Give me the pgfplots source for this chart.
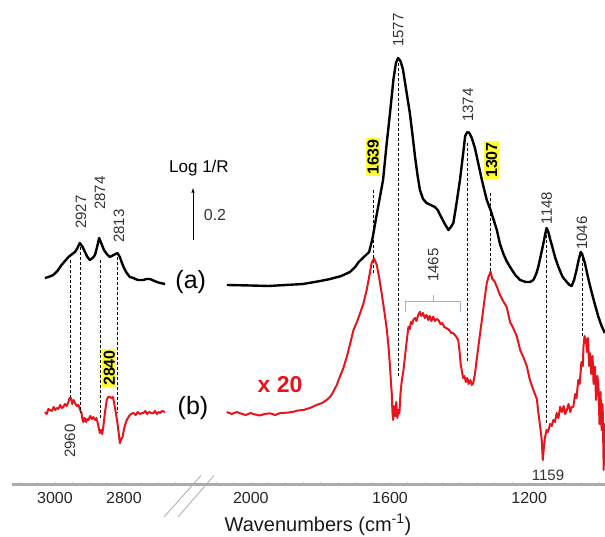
\documentclass[border=0pt]{standalone}
\usepackage{pgfplots}
\pgfplotsset{compat=1.18}
\usepackage{fontspec}
\setmainfont{Liberation Sans}
\definecolor{spred}{HTML}{E8141B}
\definecolor{axgray}{HTML}{ABABAB}
\definecolor{lblgray}{HTML}{333333}
\definecolor{brk}{HTML}{9CB2C6}
\definecolor{hl}{HTML}{FFFF33}
\newcommand{\fs}[1]{\fontsize{#1}{#1}\selectfont}
\pgfplotsset{spec/.style={
  scale only axis, x dir=reverse, ymin=0, ymax=484, clip=false,
  axis x line*=bottom, axis y line=none,
  x axis line style={-, draw=axgray, line width=3pt},
  tick align=center,
  major tick length=4pt, minor tick length=4pt,
  tick style={draw=axgray!60, line width=0.5pt},
  xticklabel style={font=\fs{16}, text=black!85, yshift=-3pt},
  /pgf/number format/assume math mode=true,
  /pgf/number format/set thousands separator={},
  height=484pt, anchor=south west,
}}
\begin{document}
\begin{tikzpicture}
\path[use as bounding box] (0,0) rectangle (605pt,536pt);
% ---------- left segment ----------
\begin{axis}[spec, at={(12pt,52pt)}, width=183pt,
  xmin=2594.2, xmax=3124.6,
  xtick={2800,3000}, minor xtick={2650,2700,...,3100}]
\addplot[black, line width=2.4pt, line join=round] coordinates {
(3029,206)(3015,207.5)(3005,209)(2993,213)(2981,219)(2971,223)(2961,227)(2950,230)
(2942,232)(2935,236)(2928,241)(2920,237)(2913,232)(2906,227)(2899,224)(2891,226)
(2884,229)(2878,237)(2872,246)(2865,240)(2858,234)(2850,230)(2841,227)(2830,229)
(2819,231)(2812,227)(2807,222)(2800,216)(2792,211)(2783,207)(2773,206)(2760,204)
(2744,204)(2735,205)(2725,205)(2715,203.5)(2705,202)(2695,201)(2681,200)};
\addplot[spred, line width=2pt, line join=round] coordinates {
(3029,72)(3024,70)(3019,75)(3014,74)(3009,73)(3004,77)(2999,74)(2995,76)(2990,75)
(2985,79)(2980,76)(2976,77)(2971,80)(2966,78)(2961,82)(2958,86)(2954,86)(2950,80)
(2946,84)(2942,81)(2937,78)(2932,79)(2927,74)(2923,71)(2920,64)(2918,62)(2914,66)
(2910,62)(2906,65)(2903,64)(2898,68)(2893,65)(2889,67)(2884,64)(2880,66)(2877,62)
(2873,56)(2870,51)(2866,54)(2863,50)(2860,57)(2855,72)(2850,84)(2846,87)(2841,87)
(2836,86)(2832,87)(2829,82)(2824,72)(2819,61)(2815,50)(2812,41)(2808,45)(2804,47)
(2800,55)(2796,60)(2792,64)(2785,68)(2780,70)(2773,71)(2766,69)(2760,72)(2754,70)
(2748,71)(2744,71)(2738,73)(2733,70)(2727,72)(2721,71)(2715,71)(2710,73)(2705,70)
(2700,72)(2695,71)(2690,73)(2681,72)};
\begin{scope}[dashed, dash pattern=on 3pt off 2pt, line width=0.8pt]
\draw (axis cs:2954,224) -- (axis cs:2954,84);
\draw (axis cs:2925,237) -- (axis cs:2925,71);
\draw (axis cs:2868,224) -- (axis cs:2868,64);
\draw (axis cs:2819,227) -- (axis cs:2819,71);
\end{scope}
\end{axis}
% ---------- right segment ----------
\begin{axis}[spec, at={(195pt,52pt)}, width=410pt,
  xmin=982.2, xmax=2160.4,
  xtick={1200,1600,2000}, minor xtick={1000,1050,...,2150}]
\addplot[black, line width=2.4pt, line join=round] coordinates {
(2069,199)(2000,198.5)(1950,198)(1900,199)(1850,200)(1800,203)(1772,205)(1740,208)
(1715,212)(1700,217)(1690,222)(1678,226)(1660,232)(1650,246)(1640,266)(1630,285)
(1620,304)(1610,339)(1600,371)(1590,405)(1583,421)(1577,426)(1570,423)(1563,415)
(1553,393)(1543,371)(1535,348)(1528,327)(1521,309)(1514,294)(1505,285)(1495,281)
(1483,279)(1471,277)(1463,274)(1456,269)(1444,261)(1432,254)(1425,257)(1418,261)
(1410,278)(1399,304)(1390,330)(1384,348)(1378,352)(1372,351)(1365,346)(1356,336)
(1346,320)(1336,304)(1322,284)(1311,274)(1302,264)(1293,254)(1284,240)(1274,230)
(1265,223)(1255,217)(1240,209)(1226,204)(1210,202)(1198,202)(1188,204)(1180,210)
(1174,217)(1167,228)(1159,241)(1154,250)(1150,256)(1145,252)(1140,245)(1135,239)
(1125,226)(1116,217)(1104,207)(1092,202)(1084,199)(1078,198)(1071,204)(1064,214)
(1058,224)(1052,232)(1048,230)(1040,221)(1030,205)(1020,191)(1010,178)(1001,167)
(992,158)(982.5,151)};
\addplot[spred, line width=2pt, line join=round] coordinates {
(2069,72)(2055,70)(2040,72)(2031,70.7)(2015,69)(2000,71)(1993,70)(1975,68.5)(1960,70)
(1945,70.7)(1930,69)(1915,71)(1897,71.3)(1880,72)(1865,73.5)(1849,74)(1830,76)
(1811,79)(1795,81)(1782,84)(1770,88)(1763,92.3)(1753,99)(1744,107.3)(1734,116)
(1724,127.3)(1714,141)(1705,154)(1695,162)(1686,170.7)(1676,181)(1667,194)(1660,207)
(1653,220.7)(1646,225.7)(1638,219)(1631,206)(1624,190.7)(1616,172)(1609,154)
(1604,136)(1600,117.3)(1597,100)(1595,90.7)(1593,72)(1591,64)(1588,78)(1585,68)
(1582,82)(1579,66)(1576,74)(1573,70.7)(1570,90)(1566,104)(1562,112)(1557,127.3)
(1553,140)(1547,157.3)(1543,155)(1540,162)(1536,160)(1533,164)(1528,166)(1524,163)
(1519,169)(1514,172.3)(1510,168)(1505,171)(1500,166)(1495,169)(1490,164)(1486,168)
(1481,163)(1476,167.3)(1471,163)(1466,165)(1461,164)(1455,160)(1450,161)(1444,157)
(1437,155.7)(1430,154)(1424,151)(1418,150.7)(1411,148)(1404,144)(1400,132)(1397,120)
(1394,114)(1390,106)(1386,108)(1382,102)(1378,106)(1374,100)(1369,104)(1365,99)
(1361,100.7)(1356,110)(1351,124)(1344,143)(1336,164)(1329,183)(1322,200.7)(1317,207)
(1311,212.3)(1306,205)(1300,203)(1293,197.3)(1284,189)(1275,183)(1265,177.3)
(1255,162)(1246,156)(1236,148)(1226,134)(1217,127)(1207,118)(1198,104)(1188,94)
(1178,85)(1174,72)(1168,56)(1164,44)(1161,24)(1158,36)(1155,46)(1150,54)(1146,52)
(1140,60)(1135,58)(1131,64)(1126,62)(1121,71)(1116,66)(1111,77.3)(1106,72)(1101,78)
(1097,70)(1092,74)(1087,80)(1082,72)(1078,77)(1073,77.3)(1068,90)(1064,86)(1059,104)
(1055,100)(1050,122)(1046,118)(1044,137.3)(1041,148)(1037,144)(1034,132)(1031,146)
(1028,118)(1025,130.7)(1022,110)(1018,128)(1015,100)(1011,117.3)(1008,84)(1004,108)
(1001,97.3)(998,60)(995,92)(992,54)(989,80)(986,14)(984,60)(982.5,37)};
\begin{scope}[dashed, dash pattern=on 3pt off 2pt, line width=0.8pt]
\draw (axis cs:1649,294) -- (axis cs:1649,211);
\draw (axis cs:1577,421) -- (axis cs:1577,107);
\draw (axis cs:1379,341) -- (axis cs:1379,122);
\draw (axis cs:1311,291) -- (axis cs:1311,212);
\draw (axis cs:1150,254) -- (axis cs:1150,59);
\draw (axis cs:1046,231) -- (axis cs:1046,147);
\end{scope}
\end{axis}
% ---------- annotations ----------
\begin{scope}[x=1pt, y=1pt]
\draw[axgray, line width=0.8pt] (164,19) -- (201,60.5);
\draw[axgray, line width=0.8pt] (178,19) -- (214,60.5);
\node[font=\fs{20}, text=black!90] at (318,11) {Wavenumbers (cm\textsuperscript{-1})};
\begin{scope}[every node/.style={rotate=90, font=\fs{15}, text=lblgray, inner sep=0pt}]
\node at (398.3,506) {1577};
\node at (468,431) {1374};
\node at (546.7,328) {1148};
\node at (582,303) {1046};
\node at (433.3,271) {1465};
\node at (81,324) {2927};
\node at (100,343) {2874};
\node at (119,310) {2813};
\node at (70,95) {2960};
\end{scope}
\begin{scope}[every node/.style={rotate=90, font=\bfseries\fs{16}, text=black, fill=hl, inner sep=1.5pt}]
\node at (373,379) {1639};
\node at (491.5,376) {1307};
\node at (109.3,168) {2840};
\end{scope}
\node[font=\fs{15}, text=lblgray] at (548,61) {1159};
\draw[brk, line width=0.8pt] (405,224.3) -- (405,234.3) -- (460,234.3) -- (460,224.3);
\draw[brk, line width=0.8pt] (433.3,234.3) -- (433.3,241);
\node[font=\fs{25}] at (190.7,254) {(a)};
\node[font=\fs{25}] at (193,128) {(b)};
\node[font=\bfseries\fs{23}, text=spred] at (280,151) {x 20};
\node[font=\fs{17}] at (199,368) {Log 1/R};
\draw[-latex, line width=0.6pt] (193,296) -- (193,348);
\node[font=\fs{16}, text=lblgray] at (215,321) {0.2};
\end{scope}
\end{tikzpicture}
\end{document}
